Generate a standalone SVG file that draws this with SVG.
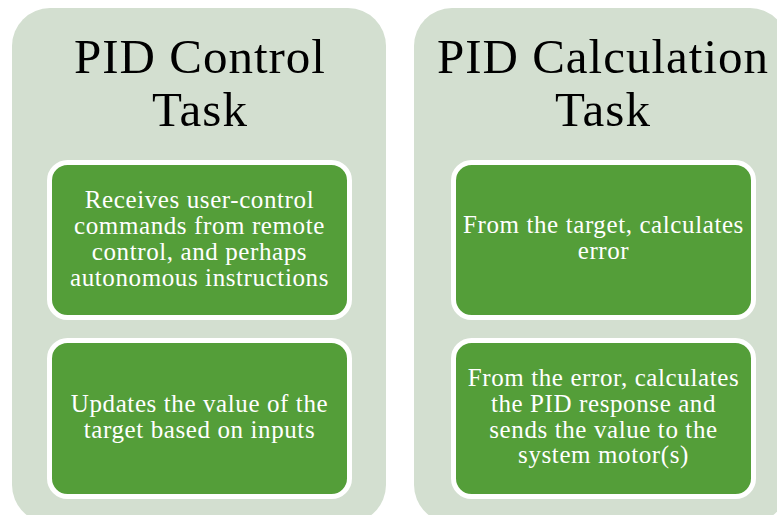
<svg xmlns="http://www.w3.org/2000/svg" width="777" height="515" viewBox="0 0 777 515">
<style>
.outer{fill:#d3dfd0;}
.inner{fill:#549e39;stroke:#ffffff;stroke-width:5;}
.title{font-family:"Liberation Serif","Times New Roman",serif;font-size:49px;fill:#000000;text-anchor:middle;letter-spacing:1px;}
.body{font-family:"Liberation Serif","Times New Roman",serif;font-size:25px;fill:#ffffff;text-anchor:middle;letter-spacing:0.6px;}
</style>
<rect width="777" height="515" fill="#ffffff"/>
<g id="pid-control-task">
<rect class="outer" x="12" y="8" width="374" height="515" rx="38" ry="38"/>
<text class="title" x="200" y="73">PID Control</text>
<text class="title" x="200" y="126">Task</text>
</g>
<g id="pid-calculation-task">
<rect class="outer" x="414" y="8" width="374" height="515" rx="38" ry="38"/>
<text class="title" x="603" y="73">PID Calculation</text>
<text class="title" x="603" y="126">Task</text>
</g>
<g id="receives-commands">
<rect class="inner" x="49.5" y="162.5" width="300" height="155" rx="18" ry="18"/>
<text class="body" x="199.5" y="208">Receives user-control</text>
<text class="body" x="199.5" y="234">commands from remote</text>
<text class="body" x="199.5" y="260">control, and perhaps</text>
<text class="body" x="199.5" y="286">autonomous instructions</text>
</g>
<g id="updates-target">
<rect class="inner" x="49.5" y="340.5" width="300" height="156" rx="18" ry="18"/>
<text class="body" x="199.5" y="412">Updates the value of the</text>
<text class="body" x="199.5" y="438">target based on inputs</text>
</g>
<g id="calculates-error">
<rect class="inner" x="453.5" y="162.5" width="300" height="155" rx="18" ry="18"/>
<text class="body" x="603.5" y="233">From the target, calculates</text>
<text class="body" x="603.5" y="259">error</text>
</g>
<g id="calculates-response">
<rect class="inner" x="453.5" y="340.5" width="300" height="156" rx="18" ry="18"/>
<text class="body" x="603.5" y="386">From the error, calculates</text>
<text class="body" x="603.5" y="412">the PID response and</text>
<text class="body" x="603.5" y="437.5">sends the value to the</text>
<text class="body" x="603.5" y="463">system motor(s)</text>
</g>
<g id="connectors"></g>
</svg>
